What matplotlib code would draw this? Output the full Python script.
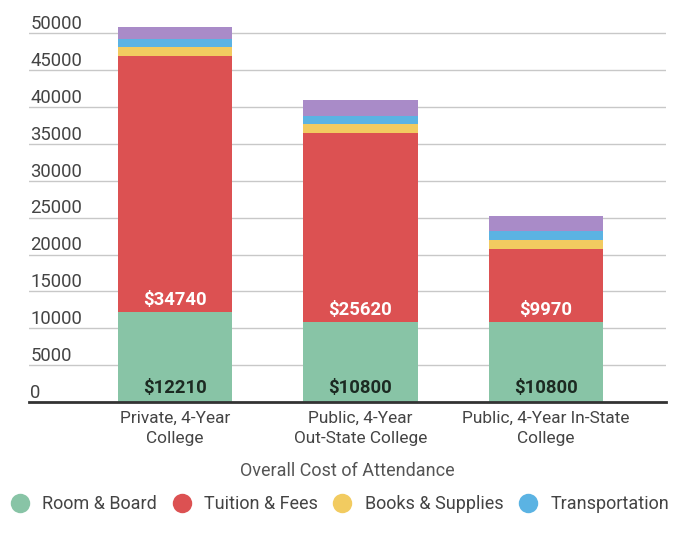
import matplotlib
matplotlib.use("Agg")
import matplotlib.pyplot as plt
from matplotlib.lines import Line2D
import numpy as np

plt.rcParams['font.family'] = ['Roboto', 'DejaVu Sans']

categories = ["Private, 4-Year\nCollege", "Public, 4-Year\nOut-State College", "Public, 4-Year In-State\nCollege"]
room_board = [12210, 10800, 10800]
tuition_fees = [34740, 25620, 9970]
books_supplies = [1220, 1250, 1250]
transportation = [1060, 1160, 1160]
other_expenses = [1670, 2110, 2110]
series_names = ["Room & Board", "Tuition & Fees", "Books & Supplies", "Transportation", "Other Expenses"]
series_colors = ["#88c4a6", "#dc5152", "#f2cb60", "#5bb3e3", "#a98bc8"]
yticks = [0, 5000, 10000, 15000, 20000, 25000, 30000, 35000, 40000, 45000, 50000]

fig = plt.figure(figsize=(7.0, 5.38), dpi=100)
ax = fig.add_axes([29/700, 1-402/538, (666-29)/700, (402-11.2)/538])

x = np.arange(len(categories))
width = 0.615
series = [room_board, tuition_fees, books_supplies, transportation, other_expenses]
bottom = np.zeros(len(categories))
for vals, col in zip(series, series_colors):
    ax.bar(x, vals, width, bottom=bottom, color=col, zorder=3, linewidth=0)
    bottom = bottom + np.array(vals)

ax.set_xlim(-0.787, 2.647)
ax.set_ylim(0, 53000)

ax.set_yticks(yticks)
ax.yaxis.grid(True, color="#c8c8c8", linewidth=1.0, zorder=0)
ax.tick_params(axis='y', length=0, labelleft=False)
for s in ['top', 'right', 'left']:
    ax.spines[s].set_visible(False)
ax.spines['bottom'].set_color('#333333')
ax.spines['bottom'].set_linewidth(2.0)
ax.spines['bottom'].set_zorder(4)

trans = ax.get_yaxis_transform()
for v in yticks:
    ax.annotate(str(v), xy=(0.0, v), xycoords=trans, xytext=(0.8, 3.0), textcoords='offset points',
                ha='left', va='baseline', fontsize=13.3, color='#444444')

ax.set_xticks(x)
ax.set_xticklabels(categories, fontsize=12.4, color='#444444', linespacing=1.45)
ax.tick_params(axis='x', length=0, pad=6.5)

ax.set_xlabel("Overall Cost of Attendance", fontsize=13, color='#555555', labelpad=11)

for i in range(len(categories)):
    ax.annotate(f"${room_board[i]}", xy=(x[i], 0), xytext=(0, 10), textcoords='offset points',
                ha='center', va='center', fontsize=13.3, fontweight='bold', color='#1c2a22', zorder=5)
    ax.annotate(f"${tuition_fees[i]}", xy=(x[i], room_board[i]), xytext=(0, 8.6), textcoords='offset points',
                ha='center', va='center', fontsize=13.3, fontweight='bold', color='white', zorder=5)

handles = [Line2D([0], [0], marker='o', linestyle='none', markersize=14,
                  markerfacecolor=c, markeredgewidth=0) for c in series_colors[:4]]
fig.legend(handles, series_names[:4], loc='center', bbox_to_anchor=(340/700, 1-504/538), ncol=4,
           frameon=False, fontsize=13, handletextpad=0.75, columnspacing=0.85, handlelength=1.0,
           labelcolor='#444444')

fig.savefig("out.png", dpi=100, facecolor='white')
